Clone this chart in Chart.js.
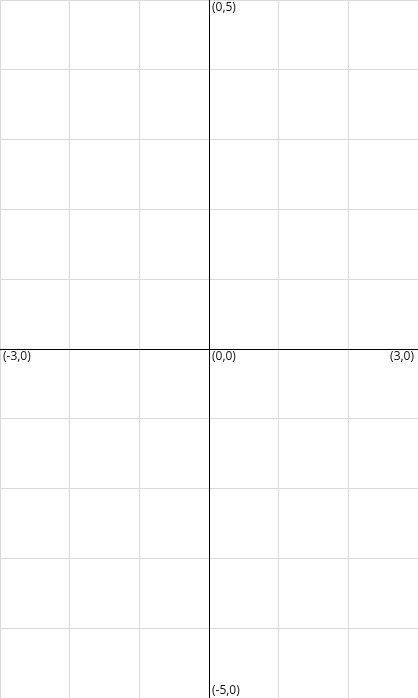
<!DOCTYPE html>
<html>
<head>
<meta charset="utf-8">
<script src="https://cdn.jsdelivr.net/npm/chart.js@4"></script>
<style>
  html, body { margin: 0; padding: 0; background: #fff; }
  #wrap { width: 418px; height: 698px; position: relative; }
</style>
</head>
<body>
<div id="wrap"><canvas id="plane"></canvas></div>
<script>
// Labelled points on the coordinate plane
const pointLabels = ['(0,5)', '(-3,0)', '(0,0)', '(3,0)', '(-5,0)'];
const pointX = [0, -3, 0, 3, 0];
const pointY = [5, 0, 0, 0, -5];

// Axis ranges
const xRange = [-3, 3];
const yRange = [-5, 5];

// Black x/y axes through the origin, drawn over the grid
const axesPlugin = {
    id: 'originAxes',
    beforeDatasetsDraw(chart) {
        const ctx = chart.ctx;
        const area = chart.chartArea;
        const x0 = Math.round(chart.scales.x.getPixelForValue(0)) + 0.5;
        const y0 = Math.round(chart.scales.y.getPixelForValue(0)) + 0.5;
        ctx.save();
        ctx.strokeStyle = '#000';
        ctx.lineWidth = 1;
        ctx.beginPath();
        ctx.moveTo(x0, area.top);
        ctx.lineTo(x0, area.bottom);
        ctx.moveTo(area.left, y0);
        ctx.lineTo(area.right, y0);
        ctx.stroke();
        ctx.restore();
    }
};

// Draw the text next to each point
const labelPlugin = {
    id: 'pointText',
    afterDatasetsDraw(chart) {
        const ctx = chart.ctx;
        const meta = chart.getDatasetMeta(0);
        ctx.save();
        ctx.font = '12px "Open Sans", sans-serif';
        ctx.fillStyle = '#111';
        meta.data.forEach(function(pt, i) {
            let tx = pt.x + 3;
            let ty = pt.y + 2;
            ctx.textAlign = 'left';
            ctx.textBaseline = 'top';
            if (pointX[i] === xRange[1]) {
                ctx.textAlign = 'right';
                tx = pt.x - 4;
            }
            if (pointY[i] === yRange[0]) {
                ctx.textBaseline = 'bottom';
                ty = pt.y - 1;
            }
            ctx.fillText(pointLabels[i], tx, ty);
        });
        ctx.restore();
    }
};

new Chart(document.getElementById('plane'), {
    type: 'scatter',
    data: {
        datasets: [{
            data: pointX.map(function(x, i) { return { x: x, y: pointY[i] }; }),
            pointRadius: 0,
            pointHoverRadius: 0
        }]
    },
    options: {
        responsive: true,
        maintainAspectRatio: false,
        animation: false,
        layout: { padding: 0 },
        plugins: {
            legend: { display: false },
            tooltip: { enabled: false }
        },
        scales: {
            x: {
                type: 'linear',
                min: xRange[0],
                max: xRange[1],
                ticks: { display: false, stepSize: 1 },
                border: { display: false },
                grid: { color: '#d9d9d9', drawTicks: false, lineWidth: 1 }
            },
            y: {
                type: 'linear',
                min: yRange[0],
                max: yRange[1],
                ticks: { display: false, stepSize: 1 },
                border: { display: false },
                grid: { color: '#d9d9d9', drawTicks: false, lineWidth: 1 }
            }
        }
    },
    plugins: [axesPlugin, labelPlugin]
});
</script>
</body>
</html>
